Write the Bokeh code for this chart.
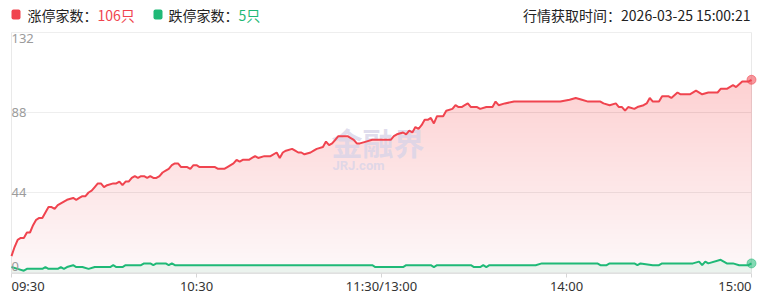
import numpy as np
from bokeh.plotting import figure
from bokeh.core.properties import value
from bokeh.embed import file_html
from bokeh.resources import INLINE

# ---- data (minutes since 09:30, trading time; 120 = 11:30/13:00) ----
red_t = [0, 1, 2, 3, 4, 5, 6, 7, 8, 9, 10, 11, 12, 13, 14, 15, 16, 17, 18, 20,
         21, 22, 23, 24, 25, 26, 27, 28, 29, 30, 31, 33, 34, 35, 36, 37, 38, 39, 40, 41,
         42, 43, 44, 45, 46, 47, 48, 49, 50, 51, 52, 53, 54, 55, 56, 57, 58, 59, 60, 61,
         66, 67, 69, 70, 72, 73, 74, 75, 77, 78, 79, 80, 82, 84, 86, 87, 88, 89, 91, 92,
         93, 94, 95, 97, 98, 99, 101, 102, 103, 104, 105, 106, 109, 111, 112, 113, 115, 117, 123, 124,
         125, 127, 128, 129, 130, 131, 132, 133, 134, 135, 136, 137, 138, 140, 141, 143, 144, 145, 146, 147,
         148, 149, 151, 152, 154, 156, 157, 158, 160, 163, 178, 181, 183, 185, 187, 191, 192, 194, 196, 197,
         198, 199, 200, 202, 203, 205, 206, 207, 208, 210, 211, 213, 214, 216, 217, 220, 222, 224, 226, 229,
         230, 232, 234, 235, 237, 239, 240]
red_v = [9, 14, 18, 19, 19, 22, 22, 26, 29, 30, 30, 33, 36, 36, 35, 37, 38, 39, 40, 41,
         40, 41, 42, 42, 44, 45, 47, 49, 49, 47, 48, 49, 49, 50, 48, 50, 50, 52, 53, 52,
         53, 53, 52, 53, 52, 52, 53, 55, 56, 57, 59, 60, 60, 58, 58, 58, 57, 59, 59, 58,
         58, 57, 57, 58, 60, 62, 61, 62, 62, 63, 64, 63, 64, 64, 66, 63, 66, 67, 68, 67,
         66, 66, 65, 66, 67, 68, 69, 72, 70, 71, 73, 75, 75, 73, 71, 71, 72, 73, 73, 75,
         76, 77, 76, 78, 77, 80, 79, 81, 84, 84, 85, 82, 86, 86, 89, 90, 92, 91, 91, 92,
         93, 91, 91, 90, 91, 91, 94, 92, 93, 94, 94, 95, 96, 95, 94, 94, 93, 92, 93, 91,
         91, 89, 91, 90, 91, 92, 93, 96, 94, 94, 97, 97, 96, 99, 98, 98, 100, 98, 99, 99,
         101, 101, 103, 102, 105, 105, 106]

green_t = [0, 2, 4, 5, 10, 11, 12, 15, 16, 17, 18, 20, 21, 23, 25, 27, 32, 33, 34, 36,
           37, 42, 43, 45, 46, 47, 50, 51, 52, 53, 117, 118, 127, 128, 136, 137, 138, 149, 150, 152,
           153, 154, 155, 170, 172, 190, 191, 193, 194, 202, 203, 204, 208, 210, 211, 221, 223, 224, 225, 226,
           230, 232, 234, 236, 239, 240]
green_v = [3, 2, 1, 2, 2, 3, 2, 2, 3, 2, 3, 4, 3, 3, 2, 3, 3, 4, 3, 3,
           4, 4, 5, 5, 4, 5, 5, 4, 5, 4, 4, 3, 3, 4, 4, 3, 4, 4, 3, 3,
           4, 3, 4, 4, 5, 5, 4, 4, 5, 5, 4, 5, 4, 4, 5, 5, 6, 4, 6, 5,
           7, 5, 5, 4, 4, 5]

x_ticks = [0, 60, 120, 180, 240]
x_tick_labels = ["09:30", "10:30", "11:30/13:00", "14:00", "15:00"]
y_ticks = [0, 44, 88, 132]
up_label = "涨停家数："
down_label = "跌停家数："
up_count = "106只"
down_count = "5只"
time_label = "行情获取时间：2026-03-25 15:00:21"

RED = "#f0444f"
GREEN = "#1fb977"
FILL = "#c44c6c"
CJK = "Noto Sans CJK SC"
NUM = "Noto Sans"

# ---- plot-area placement in the 780x299 canvas ----
CW, CH = 780, 299
L, T, W, H = 11, 32, 740, 241
XA, XB, YA, YB = 0, 240, -0.55, 132
sx = (XB - XA) / W
sy = (YB - YA) / H


def px(p):
    return XA + (p - L) * sx


def py(p):
    return YB - (p - T) * sy


p = figure(width=CW, height=CH, x_range=(px(0), px(CW)), y_range=(py(CH), py(0)),
           min_border=0, x_axis_location=None, y_axis_location=None,
           toolbar_location=None, output_backend="svg")
p.background_fill_color = "white"
p.border_fill_color = "white"
p.outline_line_color = None
p.xgrid.visible = False
p.ygrid.visible = False

rt = np.array(red_t, dtype=float)
rv = np.array(red_v, dtype=float)
gt = np.array(green_t, dtype=float)
gv = np.array(green_v, dtype=float)
yt = np.array(y_ticks, dtype=float)
xt = np.array(x_ticks, dtype=float)

# gridlines + frame of the plotting area
p.segment(x0=np.full_like(yt, XA), x1=np.full_like(yt, XB), y0=yt, y1=yt,
          line_color="#eeeeee", line_width=1)
p.segment(x0=[XA, XB], x1=[XA, XB], y0=[YA, YA], y1=[YB, YB],
          line_color="#e9e9e9", line_width=1)

# gradient fill under red line (layered)
p.varea(x=rt, y1=np.zeros_like(rv), y2=rv, fill_color=FILL, fill_alpha=0.035)
N = 40
top = rv.max()
for i in range(N):
    lo = top * i / N
    p.varea(x=rt, y1=np.minimum(rv, lo), y2=rv, fill_color=FILL, fill_alpha=0.0068)

# light fill under green line
p.varea(x=gt, y1=np.zeros_like(gv), y2=gv, fill_color=GREEN, fill_alpha=0.08)

# x axis line and ticks
p.segment(x0=[XA], x1=[XB], y0=[YA], y1=[YA], line_color="#e0e0e0", line_width=1)
p.segment(x0=xt, x1=xt, y0=np.full_like(xt, YA), y1=np.full_like(xt, py(277)),
          line_color="#d6d6d6", line_width=1)

# watermark
p.text(x=[px(331)], y=[py(163)], text=["金融界"], text_font=value(CJK),
       text_font_size="31px", text_font_style="bold", text_color="#d8d4e8",
       text_alpha=0.8, text_baseline="bottom", text_align="left")
p.text(x=[px(332)], y=[py(172)], text=["JRJ.com"], text_font=value("Roboto"),
       text_font_size="13px", text_font_style="bold", text_color="#d8d4e8",
       text_alpha=0.8, text_baseline="bottom", text_align="left")

p.line(rt, rv, line_color=RED, line_width=2)
p.line(gt, gv, line_color=GREEN, line_width=2)
p.scatter([rt[-1]], [rv[-1]], size=9, color=RED, alpha=0.55)
p.scatter([gt[-1]], [gv[-1]], size=9, color=GREEN, alpha=0.55)

# y labels (inside plot area)
ypos = []
ybase = []
for v in y_ticks:
    if v == y_ticks[-1]:
        ypos.append(py(33)); ybase.append("top")
    elif v == y_ticks[0]:
        ypos.append(py(270)); ybase.append("bottom")
    else:
        ypos.append(v); ybase.append("middle")
for v, yy, b in zip(y_ticks, ypos, ybase):
    p.text(x=[XA], y=[yy], text=[str(v)], text_font=value(NUM),
           text_font_size="13px", text_color="#9b9b9b",
           text_align="left", text_baseline=b)

# x labels
for i, (t, s) in enumerate(zip(x_ticks, x_tick_labels)):
    align = "left" if i == 0 else ("right" if i == len(x_ticks) - 1 else "center")
    p.text(x=[t], y=[py(285)], text=[s], text_font=value(NUM),
           text_font_size="13px", text_color="#333333",
           text_align=align, text_baseline="middle")

# header legend
p.rect(x=[px(15.5), px(157.5)], y=[py(14), py(14)], width=9 * sx, height=10 * sy,
       fill_color=[RED, GREEN], line_color=None, border_radius=2)
hy = py(14)
p.text(x=[px(27)], y=[hy], text=[up_label], text_font=value(CJK), text_font_size="14px",
       text_color="#222222", text_baseline="middle")
p.text(x=[px(97)], y=[hy], text=[up_count], text_font=value(CJK), text_font_size="14px",
       text_color=RED, text_baseline="middle")
p.text(x=[px(168)], y=[hy], text=[down_label], text_font=value(CJK), text_font_size="14px",
       text_color="#222222", text_baseline="middle")
p.text(x=[px(238)], y=[hy], text=[down_count], text_font=value(CJK), text_font_size="14px",
       text_color=GREEN, text_baseline="middle")
p.text(x=[px(750)], y=[hy], text=[time_label], text_font=value(CJK), text_font_size="14px",
       text_color="#222222", text_baseline="middle", text_align="right")

open("out.html", "w").write(file_html(p, INLINE))
